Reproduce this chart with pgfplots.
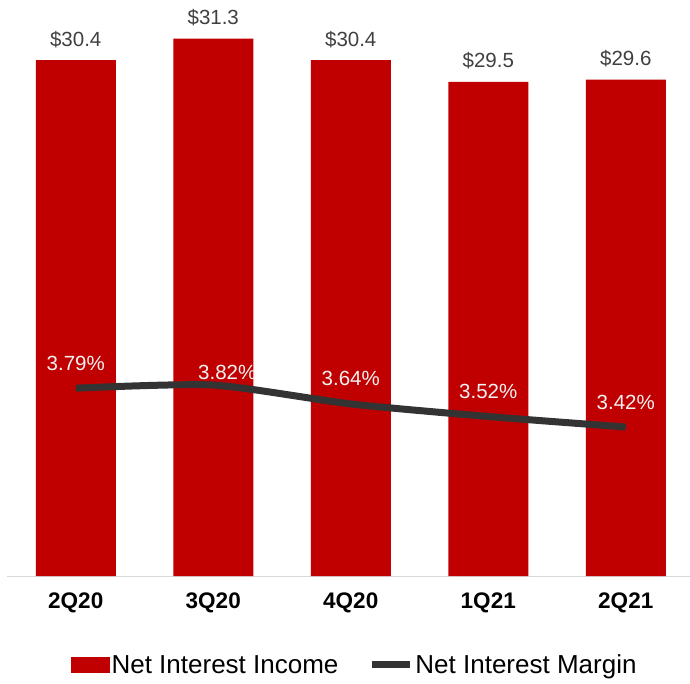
\documentclass[border=0pt]{standalone}
\usepackage{fontspec}
\setmainfont{Liberation Sans}
\usepackage{pgfplots}
\pgfplotsset{compat=1.18}
\definecolor{barred}{RGB}{192,0,0}
\definecolor{linegray}{RGB}{51,51,51}
\definecolor{lblgray}{RGB}{64,64,64}
\definecolor{pctwhite}{RGB}{242,242,242}
\definecolor{axgray}{RGB}{217,217,217}
\begin{document}
\begin{tikzpicture}[x=1pt,y=1pt]
\path[use as bounding box] (0,0) rectangle (690,683);
\begin{axis}[
  at={(7pt,107pt)}, anchor=south west, scale only axis,
  width=687.5pt, height=576pt,
  xmin=-0.5, xmax=4.5, ymin=9, ymax=32.9,
  axis y line=none, axis x line*=bottom,
  x axis line style={axgray, line width=1pt, -},
  xtick={0,1,2,3,4}, xticklabels={2Q20,3Q20,4Q20,1Q21,2Q21},
  xticklabel style={font=\fontsize{22.5}{22.5}\selectfont\bfseries, anchor=center, yshift=-27pt, text=black},
  major tick length=0pt,
  /pgf/number format/assume math mode=true,
  ybar, bar width=80pt,
  nodes near coords={\$\pgfmathprintnumber[fixed,precision=1,fixed zerofill]{\pgfplotspointmeta}},
  every node near coord/.append style={font=\fontsize{20.5}{20.5}\selectfont, text=lblgray, anchor=center, yshift=21pt},
  clip=false,
]
\addplot[fill=barred, draw=none] coordinates {(0,30.4) (1,31.3) (2,30.4) (3,29.5) (4,29.6)};
\end{axis}
\begin{axis}[
  at={(7pt,107pt)}, anchor=south west, scale only axis,
  width=687.5pt, height=576pt,
  xmin=-0.5, xmax=4.5, ymin=2, ymax=7.49,
  hide axis, clip=false,
  /pgf/number format/assume math mode=true,
  legend style={at={(0.506,-0.1545)}, anchor=center, draw=none, fill=none,
    font=\fontsize{26}{26}\selectfont, nodes={inner sep=2pt},
    /tikz/every even column/.append style={column sep=28pt}},
  legend columns=2,
]
\addlegendimage{legend image code/.code={\fill[barred] (0pt,-7.5pt) rectangle (38pt,7.5pt);}}
\addlegendentry{Net Interest Income}
\addplot[linegray, line width=7pt, smooth, tension=0.4,
  legend image code/.code={\draw[linegray, line width=7pt] (0pt,0pt) -- (38pt,0pt);},
  nodes near coords={\pgfmathprintnumber[fixed,precision=2,fixed zerofill]{\pgfplotspointmeta}\%},
  every node near coord/.append style={font=\fontsize{20.5}{20.5}\selectfont, text=pctwhite, anchor=center, yshift=25pt},
  coordinate style/.condition={\coordindex==1}{xshift=14pt, yshift=-12pt},
] coordinates {(0,3.79) (1,3.82) (2,3.64) (3,3.52) (4,3.42)};
\addlegendentry{Net Interest Margin}
\end{axis}
\end{tikzpicture}
\end{document}
